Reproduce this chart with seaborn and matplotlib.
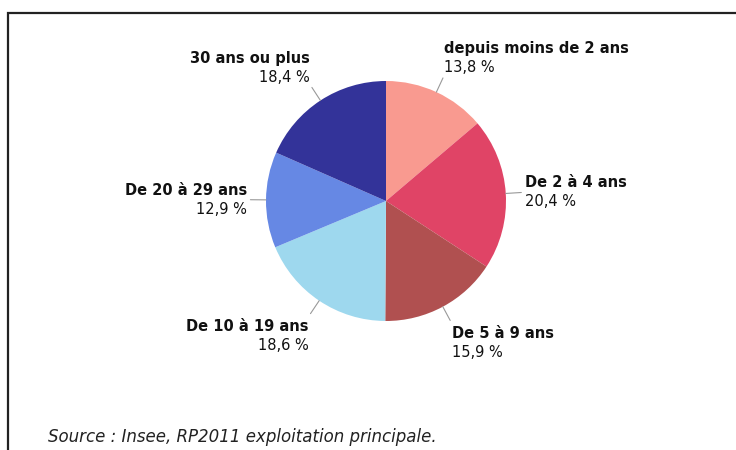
import numpy as np
import matplotlib
matplotlib.use("Agg")
import matplotlib.pyplot as plt
import seaborn as sns
from matplotlib.patches import Rectangle

sns.set_theme(style="white")
plt.rcParams['font.family'] = ['DejaVu Sans']

# --- data ---
categories = ["depuis moins de 2 ans", "De 2 à 4 ans", "De 5 à 9 ans",
              "De 10 à 19 ans", "De 20 à 29 ans", "30 ans ou plus"]
shares = [13.8, 20.4, 15.9, 18.6, 12.9, 18.4]
pct_labels = ["13,8 %", "20,4 %", "15,9 %", "18,6 %", "12,9 %", "18,4 %"]
colors = ["#F99A90", "#E04466", "#B05050", "#9ED8EE", "#6688E4", "#333399"]
source = "Source : Insee, RP2011 exploitation principale."

W, H = 736, 450
cx, cy, R = 386, 201, 120

fig = plt.figure(figsize=(W / 100, H / 100), dpi=100)
fig.patch.set_facecolor("white")

# frame around the chart
fig.add_artist(Rectangle((8 / W, -0.05), 1.0, (H - 13) / H + 0.05,
                         transform=fig.transFigure, fill=False,
                         edgecolor="#222222", linewidth=1.6))

ax = fig.add_axes([(cx - R) / W, (H - cy - R) / H, 2 * R / W, 2 * R / H])
wedges, _ = ax.pie(shares, colors=colors, startangle=90, counterclock=False,
                   radius=1.0, wedgeprops=dict(linewidth=0))
ax.set_xlim(-1, 1)
ax.set_ylim(-1, 1)
ax.set_aspect("equal")
ax.axis("off")

for w, name, pct in zip(wedges, categories, pct_labels):
    ang = np.deg2rad((w.theta1 + w.theta2) / 2)
    x, y = np.cos(ang), np.sin(ang)
    ax.plot([x * 1.0, x * 1.13], [y * 1.0, y * 1.13], color="#999999",
            lw=0.8, clip_on=False)
    tx, ty = x * 1.16, y * 1.16
    ha = "left" if x > 0 else "right"
    if ty > 0.5:
        y_name, y_pct = ty + 0.22, ty + 0.06
    elif ty < -0.5:
        y_name, y_pct = ty - 0.08, ty - 0.24
    else:
        y_name, y_pct = ty + 0.08, ty - 0.08
    ax.text(tx, y_name, name, ha=ha, va="center", fontsize=10.5,
            fontweight="bold", color="#111111", clip_on=False)
    ax.text(tx, y_pct, pct, ha=ha, va="center", fontsize=10.5,
            color="#111111", clip_on=False)

fig.text(48 / W, 1 - 437 / H, source, ha="left", va="center",
         fontsize=12, style="italic", color="#222222")

fig.savefig("out.png", dpi=100)
